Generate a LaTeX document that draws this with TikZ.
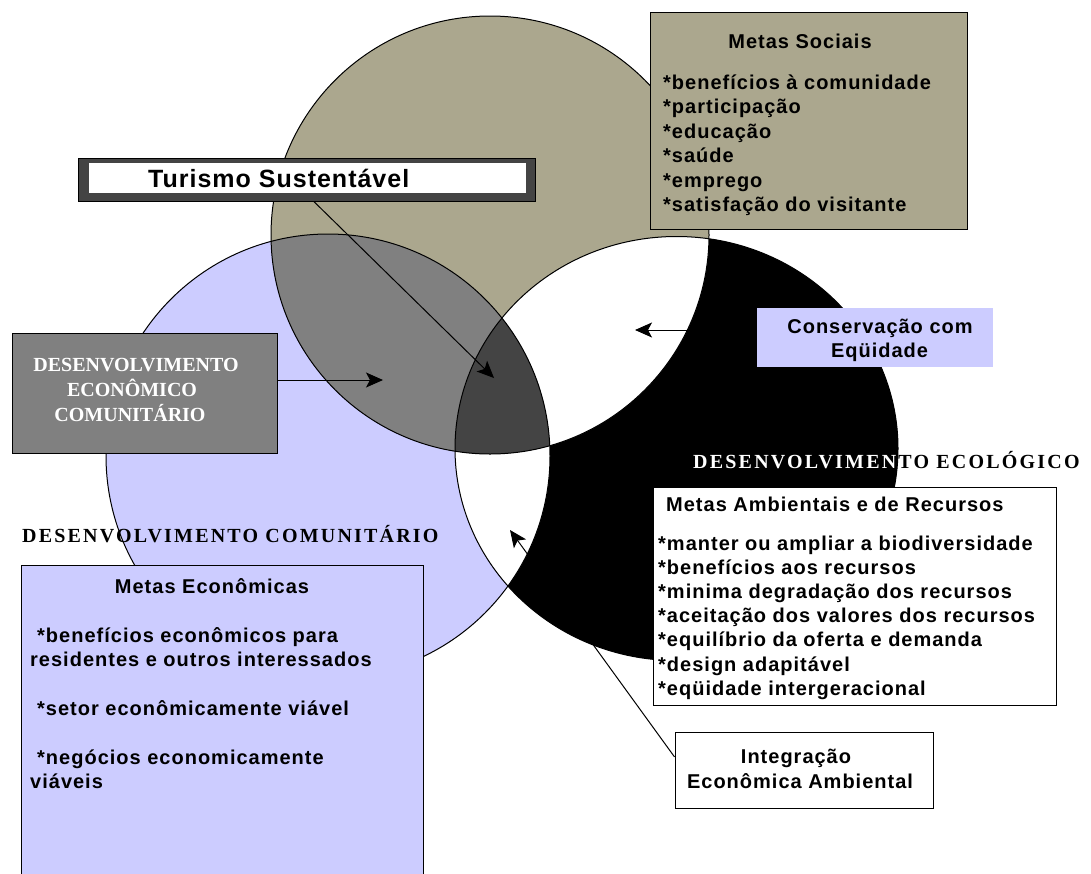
\documentclass[tikz,border=0pt]{standalone}
\usepackage{fontspec}
\setmainfont{Liberation Sans}
\newfontfamily\listfont[LetterSpace=5]{Liberation Sans}
\newfontfamily\bannerfont[LetterSpace=4]{Liberation Sans}
\newfontfamily\capsfont[LetterSpace=11]{Liberation Serif}
\newfontfamily\boxcapsfont{Liberation Serif}
\usetikzlibrary{arrows.meta,calc}

\definecolor{socialtan}{RGB}{171,167,142}
\definecolor{lavender}{RGB}{204,204,255}
\definecolor{midgray}{RGB}{128,128,128}
\definecolor{coregray}{RGB}{68,68,68}

\begin{document}
\begin{tikzpicture}[x=1pt,y=-1pt,
  box/.style={rectangle, inner sep=0pt, line width=1pt},
  lst/.style={anchor=base west, inner sep=0pt, font=\listfont\bfseries\fontsize{20}{24}\selectfont},
  lsttitle/.style={lst, anchor=base},
  caps/.style={anchor=base west, inner sep=0pt, font=\capsfont\bfseries\fontsize{20}{24}\selectfont},
  deccaps/.style={anchor=base, inner sep=0pt, text=white, font=\boxcapsfont\bfseries\fontsize{20}{24}\selectfont},
  arr/.style={draw=black, line width=1pt, -{Stealth[length=17pt,width=15pt,inset=4pt]}},
  rim/.style={draw=black, line width=1pt}
]
\useasboundingbox (0,0) rectangle (1091,873);
\fill[white] (0,0) rectangle (1091,873);
\clip (0,0) rectangle (1091,873);

% centres of the three goal circles
\coordinate (S) at (490,235);
\coordinate (C) at (328,456);
\coordinate (E) at (676.5,448.5);

% base fills
\fill[socialtan] (S) circle[radius=219pt];
\fill[lavender] (C) circle[radius=222pt];
\fill[black] (E) ellipse (221.5pt and 212pt);

% economic / environmental overlap
\begin{scope}
  \clip (C) circle[radius=222pt];
  \fill[white] (E) ellipse (221.5pt and 212pt);
\end{scope}

% overlaps with the social circle
\begin{scope}
  \clip (S) circle[radius=219pt];
  \fill[midgray] (C) circle[radius=222pt];
  \fill[white] (E) ellipse (221.5pt and 212pt);
  \clip (C) circle[radius=222pt];
  \fill[coregray] (E) ellipse (221.5pt and 212pt);
\end{scope}

% region captions
\node[caps] (dcl) at (22,542) {DESENVOLVIMENTO COMUNITÁRIO};
\node[caps] (del) at (693,468) {DESENVOLVIMENTO ECOLÓGICO};
\begin{scope}
  \clip (E) ellipse (221.5pt and 212pt);
  \node[caps, text=white] (delw) at (693,468) {DESENVOLVIMENTO ECOLÓGICO};
\end{scope}

% circle outlines
\draw[rim] (S) circle[radius=219pt];
\draw[rim] (C) circle[radius=222pt];
\draw[rim] (E) ellipse (221.5pt and 212pt);

% Turismo Sustentável banner
\node[box, fill=coregray, draw=black, minimum width=457pt, minimum height=43pt] (ts) at (306.5,179.5) {};
\fill[white] ($(ts.north west)+(11,5)$) rectangle ($(ts.south east)+(-10,-9)$);
\node[anchor=base west, inner sep=0pt, font=\bannerfont\bfseries\fontsize{25}{30}\selectfont] (tst) at (148,187) {Turismo Sustentável};

% Metas Sociais
\node[box, fill=socialtan, draw=black, minimum width=317pt, minimum height=217pt] (ms) at (808.5,120.5) {};
\node[lsttitle] (mst) at (800,48) {Metas Sociais};
\foreach \t [count=\i] in {*benefícios à comunidade, *participação, *educação, *saúde, *emprego, *satisfação do visitante}
  \node[lst] (ms\i) at (663,{89+24.5*(\i-1)}) {\t};

% Desenvolvimento Econômico Comunitário
\node[box, fill=midgray, draw=black, minimum width=265pt, minimum height=120pt] (dec) at (144.5,393) {};
\node[deccaps] (dec1) at (136,371.5) {DESENVOLVIMENTO};
\node[deccaps] (dec2) at (132,396.5) {ECONÔMICO};
\node[deccaps] (dec3) at (130,421.5) {COMUNITÁRIO};

% Conservação com Eqüidade
\node[box, fill=lavender, minimum width=236pt, minimum height=59pt] (cons) at (875,337.5) {};
\node[lsttitle] (cons1) at (880,333) {Conservação com};
\node[lsttitle] (cons2) at (879.5,357) {Eqüidade};

% Metas Ambientais e de Recursos
\node[box, fill=white, draw=black, minimum width=403pt, minimum height=218pt] (ma) at (854.5,596) {};
\node[lst] (mat) at (666,511.5) {Metas Ambientais e de Recursos};
\foreach \t [count=\i] in {*manter ou ampliar a biodiversidade, *benefícios aos recursos, *minima degradação dos recursos, *aceitação dos valores dos recursos, *equilíbrio da oferta e demanda, *design adapitável, *eqüidade intergeracional}
  \node[lst] (ma\i) at (658,{550+24.2*(\i-1)}) {\t};

% Metas Econômicas
\node[box, fill=lavender, draw=black, minimum width=402pt, minimum height=320pt] (me) at (222,725) {};
\node[lsttitle] (met) at (212,593) {Metas Econômicas};
\node[lst] (me1) at (37,642) {*benefícios econômicos para};
\node[lst] (me2) at (30,666) {residentes e outros interessados};
\node[lst] (me3) at (37,715) {*setor econômicamente viável};
\node[lst] (me4) at (37,764) {*negócios economicamente};
\node[lst] (me5) at (30,788) {viáveis};

% Integração Econômica Ambiental
\node[box, fill=white, draw=black, minimum width=258pt, minimum height=76pt] (int) at (804,770) {};
\node[lsttitle] (int1) at (796,763) {Integração};
\node[lsttitle] (int2) at (800,788) {Econômica Ambiental};

% pointers into the overlaps
\coordinate (tsTip) at (494,378);
\coordinate (decTip) at (383,380);
\coordinate (consTip) at (635,330);
\coordinate (intTip) at (510,530);
\draw[arr] ($(ts.south west)!0.516!(ts.south east)$) -- (tsTip);
\draw[arr] (dec.east |- decTip) -- (decTip);
\draw[arr] (cons.west |- consTip) -- (consTip);
\draw[arr] ($(int.north west)!0.33!(int.south west)$) -- (intTip);
\end{tikzpicture}
\end{document}
